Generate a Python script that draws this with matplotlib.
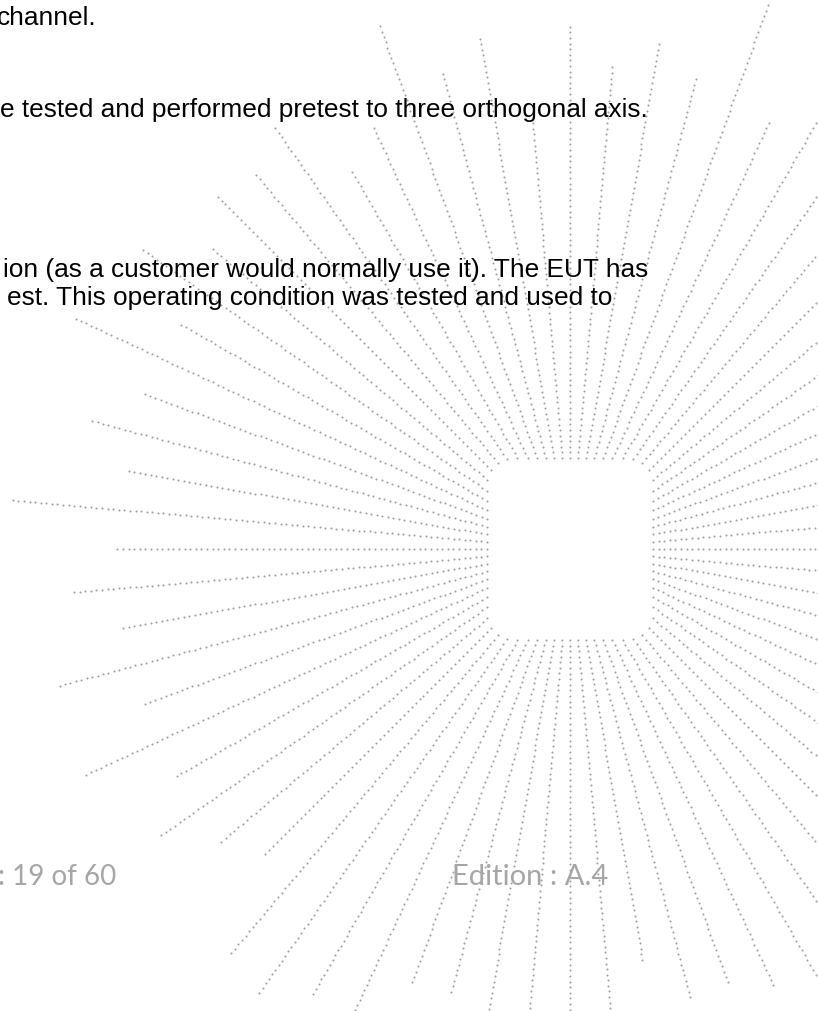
import numpy as np
import matplotlib
matplotlib.use("Agg")
import matplotlib.pyplot as plt

# page size in pixels (1 data unit = 1 px)
W, H = 818, 1011

# body text fragments (cut by the page crop) and where their right edge / baseline sit
body_lines = [
    "channel.",
    "e tested and performed pretest to three orthogonal axis.",
    "ion (as a customer would normally use it). The EUT has",
    "est. This operating condition was tested and used to",
]
body_right = [97, 648, 648, 612]
body_base = [25, 117, 277, 305]

# footer
footer_left_text = ": 19 of 60"
footer_right_text = "Edition : A.4"

# watermark starburst: ray direction (deg, counter-clockwise from +x) and end radius (px)
ray_angle = [0, 5, 10, 15, 20, 25, 30, 35, 40, 45, 50, 55,
             60, 65, 70, 75, 80, 85, 90, 95, 100, 105, 110, 115,
             120, 125, 130, 135, 140, 145, 150, 155, 160, 165, 170, 175,
             180, 185, 190, 195, 200, 205, 210, 215, 220, 225, 230, 235,
             240, 245, 250, 255, 260, 265, 270, 275, 280, 285, 290, 295,
             300, 305, 310, 315, 320, 325, 330, 335, 340, 345, 350, 355]
ray_end = [640, 640, 640, 640, 640, 640, 640, 640, 640, 640, 640, 640,
           640, 472, 580, 488, 514, 486, 524, 430, 519, 496, 561, 470,
           440, 515, 488, 503, 468, 522, 453, 549, 453, 499, 453, 564,
           454, 501, 455, 532, 456, 535, 457, 502, 457, 433, 529, 545,
           519, 640, 461, 461, 640, 640, 640, 640, 419, 469, 462, 483,
           640, 640, 640, 640, 640, 640, 640, 640, 640, 640, 640, 640]

center_x, center_y = 570, 549
hole_a, hole_b, hole_rc = 83, 91, 25   # rounded square hole in the middle
dot_step = 5.6


def hole_radius(th):
    # distance from centre to the rounded-box edge along direction th
    c, s = np.cos(th), np.sin(th)

    def sdf(t):
        qx = abs(t * c) - (hole_a - hole_rc)
        qy = abs(t * s) - (hole_b - hole_rc)
        out = np.hypot(max(qx, 0), max(qy, 0))
        return out + min(max(qx, qy), 0) - hole_rc

    lo, hi = 0.0, 300.0
    for _ in range(40):
        mid = (lo + hi) / 2
        if sdf(mid) < 0:
            lo = mid
        else:
            hi = mid
    return lo


fig = plt.figure(figsize=(W / 100, H / 100), dpi=100)
ax = fig.add_axes([0, 0, 1, 1])
ax.set_xlim(0, W)
ax.set_ylim(H, 0)
ax.axis("off")

xs, ys = [], []
for ang, r_end in zip(ray_angle, ray_end):
    th = np.deg2rad(ang)
    r0 = hole_radius(th)
    rr = np.arange(r0, r_end, dot_step)
    xs.extend(center_x + rr * np.cos(th))
    ys.extend(center_y - rr * np.sin(th))

ax.scatter(xs, ys, s=2.2, c="#a0a0a0", linewidths=0, zorder=1)

for txt, xr, yb in zip(body_lines, body_right, body_base):
    ax.text(xr, yb, txt, ha="right", va="baseline", fontsize=18.9,
            family="Liberation Sans", color="black", zorder=3)

ax.text(116, 885, footer_left_text, ha="right", va="baseline", fontsize=20,
        family="Lato", color="#a6a6a6", zorder=3)
ax.text(452, 885, footer_right_text, ha="left", va="baseline", fontsize=21,
        family="Lato", color="#a6a6a6", zorder=3)

fig.savefig("out.png", dpi=100)
